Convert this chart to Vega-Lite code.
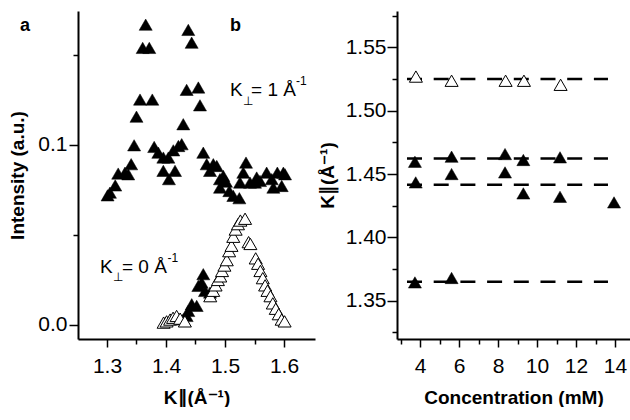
{
  "$schema": "https://vega.github.io/schema/vega-lite/v6.json",
  "bounds": "flush",
  "spacing": 82,
  "padding": {"left": 8, "top": 4, "right": 0, "bottom": 0},
  "config": {
    "view": {"stroke": null},
    "font": "Liberation Sans",
    "axis": {
      "grid": false,
      "domainColor": "black",
      "domainWidth": 2,
      "tickColor": "black",
      "tickWidth": 1.5,
      "labelColor": "black",
      "labelFont": "Liberation Sans",
      "labelFontSize": 21,
      "titleFont": "Liberation Sans",
      "titleFontSize": 19,
      "titleFontWeight": "bold",
      "titleColor": "black",
      "labelFlush": false,
      "labelOverlap": false
    }
  },
  "datasets": {
    "k1": [
      {"k": 1.301, "i": 0.072}, {"k": 1.305, "i": 0.0735}, {"k": 1.314, "i": 0.0775},
      {"k": 1.319, "i": 0.0841}, {"k": 1.3305, "i": 0.0846}, {"k": 1.336, "i": 0.0837},
      {"k": 1.341, "i": 0.0893}, {"k": 1.346, "i": 0.0998}, {"k": 1.35, "i": 0.1157},
      {"k": 1.356, "i": 0.1252}, {"k": 1.3605, "i": 0.1539}, {"k": 1.3656, "i": 0.1668},
      {"k": 1.3717, "i": 0.1539}, {"k": 1.3768, "i": 0.1252}, {"k": 1.38, "i": 0.0989},
      {"k": 1.387, "i": 0.0957}, {"k": 1.3955, "i": 0.093}, {"k": 1.3955, "i": 0.0856},
      {"k": 1.404, "i": 0.093}, {"k": 1.405, "i": 0.081}, {"k": 1.4124, "i": 0.097},
      {"k": 1.4153, "i": 0.0856}, {"k": 1.421, "i": 0.0994}, {"k": 1.4266, "i": 0.1004},
      {"k": 1.4293, "i": 0.1115}, {"k": 1.435, "i": 0.1306}, {"k": 1.4378, "i": 0.1639},
      {"k": 1.4435, "i": 0.1568}, {"k": 1.4548, "i": 0.1319}, {"k": 1.4576, "i": 0.122},
      {"k": 1.4632, "i": 0.0957}, {"k": 1.469, "i": 0.0893}, {"k": 1.4746, "i": 0.0856},
      {"k": 1.4802, "i": 0.0893}, {"k": 1.486, "i": 0.0883}, {"k": 1.4915, "i": 0.081},
      {"k": 1.4915, "i": 0.0763}, {"k": 1.4971, "i": 0.0828}, {"k": 1.5017, "i": 0.0796},
      {"k": 1.5073, "i": 0.0744}, {"k": 1.5141, "i": 0.0717}, {"k": 1.5243, "i": 0.0704},
      {"k": 1.5254, "i": 0.0791}, {"k": 1.531, "i": 0.0846}, {"k": 1.5356, "i": 0.0902},
      {"k": 1.5424, "i": 0.0791}, {"k": 1.5508, "i": 0.0791}, {"k": 1.5537, "i": 0.0819},
      {"k": 1.5593, "i": 0.08}, {"k": 1.5706, "i": 0.0846}, {"k": 1.5792, "i": 0.081},
      {"k": 1.5819, "i": 0.0763}, {"k": 1.5887, "i": 0.0846}, {"k": 1.5961, "i": 0.0772},
      {"k": 1.5989, "i": 0.0846}, {"k": 1.6017, "i": 0.0837}
    ],
    "k0filled": [
      {"k": 1.4293, "i": 0.0031}, {"k": 1.435, "i": 0.005}, {"k": 1.4378, "i": 0.0078},
      {"k": 1.4436, "i": 0.0115}, {"k": 1.452, "i": 0.0106}, {"k": 1.4548, "i": 0.0217},
      {"k": 1.4605, "i": 0.0235}, {"k": 1.4632, "i": 0.0282}, {"k": 1.4661, "i": 0.0189},
      {"k": 1.4746, "i": 0.018}
    ],
    "k0open": [
      {"k": 1.396, "i": 0.0013}, {"k": 1.401, "i": 0.002}, {"k": 1.407, "i": 0.003},
      {"k": 1.412, "i": 0.004}, {"k": 1.418, "i": 0.005}, {"k": 1.424, "i": 0.0035},
      {"k": 1.432, "i": 0.002}, {"k": 1.475, "i": 0.016}, {"k": 1.48, "i": 0.019},
      {"k": 1.484, "i": 0.022}, {"k": 1.488, "i": 0.025}, {"k": 1.492, "i": 0.027},
      {"k": 1.495, "i": 0.03}, {"k": 1.499, "i": 0.033}, {"k": 1.503, "i": 0.036},
      {"k": 1.507, "i": 0.041}, {"k": 1.511, "i": 0.044}, {"k": 1.514, "i": 0.049},
      {"k": 1.518, "i": 0.053}, {"k": 1.522, "i": 0.056}, {"k": 1.526, "i": 0.058},
      {"k": 1.534, "i": 0.059}, {"k": 1.54, "i": 0.046}, {"k": 1.543, "i": 0.045},
      {"k": 1.552, "i": 0.037}, {"k": 1.556, "i": 0.034}, {"k": 1.56, "i": 0.03},
      {"k": 1.564, "i": 0.026}, {"k": 1.568, "i": 0.022}, {"k": 1.572, "i": 0.019},
      {"k": 1.577, "i": 0.016}, {"k": 1.581, "i": 0.012}, {"k": 1.586, "i": 0.009},
      {"k": 1.591, "i": 0.006}, {"k": 1.596, "i": 0.003}, {"k": 1.601, "i": 0.002}
    ],
    "bigText": [
      {"k": 1.5085, "i": 0.1272, "t": "K"},
      {"k": 1.5441, "i": 0.1272, "t": "= 1 Å"},
      {"k": 1.2881, "i": 0.0291, "t": "K"},
      {"k": 1.3254, "i": 0.0291, "t": "= 0 Å"}
    ],
    "smallText": [
      {"k": 1.5305, "i": 0.1222, "t": "⊥"},
      {"k": 1.6203, "i": 0.1333, "t": "-1"},
      {"k": 1.3102, "i": 0.0242, "t": "⊥"},
      {"k": 1.4025, "i": 0.0352, "t": "-1"}
    ],
    "panelText": [
      {"k": 1.1525, "i": 0.1635, "t": "a"},
      {"k": 1.5085, "i": 0.1635, "t": "b"}
    ],
    "lines": [
      {"level": "a", "c": 3.333, "kp": 1.525}, {"level": "a", "c": 13.64, "kp": 1.525},
      {"level": "b", "c": 3.333, "kp": 1.4623}, {"level": "b", "c": 13.64, "kp": 1.4623},
      {"level": "c", "c": 3.333, "kp": 1.4415}, {"level": "c", "c": 13.64, "kp": 1.4415},
      {"level": "d", "c": 3.333, "kp": 1.365}, {"level": "d", "c": 13.64, "kp": 1.365}
    ],
    "ropen": [
      {"c": 3.79, "kp": 1.527}, {"c": 5.62, "kp": 1.5237}, {"c": 8.39, "kp": 1.5237},
      {"c": 9.33, "kp": 1.5237}, {"c": 11.21, "kp": 1.5205}
    ],
    "rfilled": [
      {"c": 3.74, "kp": 1.4597}, {"c": 5.62, "kp": 1.4637}, {"c": 8.36, "kp": 1.4658},
      {"c": 9.3, "kp": 1.4611}, {"c": 11.18, "kp": 1.4632}, {"c": 3.78, "kp": 1.4434},
      {"c": 5.62, "kp": 1.45}, {"c": 8.36, "kp": 1.4513}, {"c": 9.3, "kp": 1.4347},
      {"c": 11.18, "kp": 1.432}, {"c": 13.95, "kp": 1.4276}, {"c": 3.74, "kp": 1.3644},
      {"c": 5.62, "kp": 1.3679}
    ]
  },
  "hconcat": [
    {
      "width": 237,
      "height": 328,
      "encoding": {
        "x": {
          "field": "k", "type": "quantitative",
          "scale": {"domain": [1.2509, 1.6525], "nice": false, "zero": false},
          "axis": {
            "title": "K∥(Å⁻¹)",
            "values": [1.3, 1.35, 1.4, 1.45, 1.5, 1.55, 1.6],
            "labelExpr": "abs(datum.value*10 - round(datum.value*10)) < 0.001 ? format(datum.value, '.1f') : ''",
            "tickSize": {"condition": {"test": "abs(datum.value*10 - round(datum.value*10)) < 0.001", "value": 8}, "value": 5},
            "labelPadding": 8,
            "titlePadding": 12
          }
        },
        "y": {
          "field": "i", "type": "quantitative",
          "scale": {"domain": [-0.0078, 0.1744], "nice": false, "zero": false},
          "axis": {
            "title": "Intensity (a.u.)",
            "values": [0, 0.05, 0.1, 0.15],
            "labelExpr": "abs(datum.value*10 - round(datum.value*10)) < 0.001 ? format(datum.value, '.1f') : ''",
            "tickSize": {"condition": {"test": "abs(datum.value*10 - round(datum.value*10)) < 0.001", "value": 9}, "value": 5},
            "labelPadding": 2,
            "titlePadding": 10
          }
        }
      },
      "layer": [
        {
          "data": {"name": "k1"},
          "mark": {"type": "point", "shape": "triangle-up", "filled": true, "fill": "black", "stroke": "black", "strokeWidth": 0.5, "size": 170, "opacity": 1}
        },
        {
          "data": {"name": "k0filled"},
          "mark": {"type": "point", "shape": "triangle-up", "filled": true, "fill": "black", "stroke": "black", "strokeWidth": 0.5, "size": 170, "opacity": 1}
        },
        {
          "data": {"name": "k0open"},
          "mark": {"type": "point", "shape": "triangle-up", "filled": true, "fill": "white", "stroke": "black", "strokeWidth": 1, "size": 170, "opacity": 1}
        },
        {
          "data": {"name": "bigText"},
          "mark": {"type": "text", "align": "left", "baseline": "alphabetic", "font": "Liberation Sans", "fontSize": 19, "color": "black"},
          "encoding": {"text": {"field": "t"}}
        },
        {
          "data": {"name": "smallText"},
          "mark": {"type": "text", "align": "left", "baseline": "alphabetic", "font": "Liberation Sans", "fontSize": 12, "color": "black"},
          "encoding": {"text": {"field": "t"}}
        },
        {
          "data": {"name": "panelText"},
          "mark": {"type": "text", "align": "left", "baseline": "alphabetic", "font": "Liberation Sans", "fontSize": 18, "fontWeight": "bold", "color": "black"},
          "encoding": {"text": {"field": "t"}}
        }
      ]
    },
    {
      "width": 233,
      "height": 328,
      "encoding": {
        "x": {
          "field": "c", "type": "quantitative",
          "scale": {"domain": [2.8205, 14.769], "nice": false, "zero": false},
          "axis": {
            "title": "Concentration (mM)",
            "values": [3, 4, 5, 6, 7, 8, 9, 10, 11, 12, 13, 14],
            "labelExpr": "datum.value % 2 == 0 ? format(datum.value, 'd') : ''",
            "tickSize": {"condition": {"test": "datum.value % 2 == 0", "value": 8}, "value": 5},
            "labelPadding": 8,
            "titlePadding": 12
          }
        },
        "y": {
          "field": "kp", "type": "quantitative",
          "scale": {"domain": [1.3197, 1.5788], "nice": false, "zero": false},
          "axis": {
            "title": "K∥(Å⁻¹)",
            "values": [1.325, 1.35, 1.375, 1.4, 1.425, 1.45, 1.475, 1.5, 1.525, 1.55, 1.575],
            "labelExpr": "abs(datum.value*20 - round(datum.value*20)) < 0.001 ? format(datum.value, '.2f') : ''",
            "tickSize": {"condition": {"test": "abs(datum.value*20 - round(datum.value*20)) < 0.001", "value": 10}, "value": 5},
            "labelPadding": 1,
            "titlePadding": 8
          }
        }
      },
      "layer": [
        {
          "data": {"name": "lines"},
          "mark": {"type": "line", "color": "black", "strokeWidth": 2.5, "strokeDash": [15, 11.7]},
          "encoding": {"detail": {"field": "level"}}
        },
        {
          "data": {"name": "rfilled"},
          "mark": {"type": "point", "shape": "triangle-up", "filled": true, "fill": "black", "stroke": "black", "strokeWidth": 0.5, "size": 170, "opacity": 1}
        },
        {
          "data": {"name": "ropen"},
          "mark": {"type": "point", "shape": "triangle-up", "filled": true, "fill": "white", "stroke": "black", "strokeWidth": 1, "size": 170, "opacity": 1}
        }
      ]
    }
  ]
}
